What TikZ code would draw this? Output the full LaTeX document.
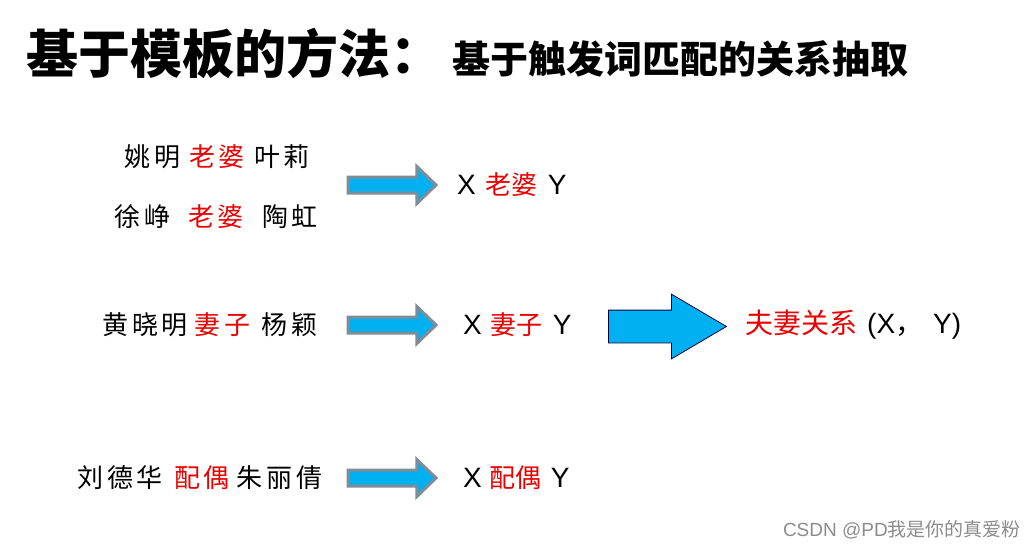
\documentclass[tikz,border=0pt]{standalone}
\usepackage{fontspec}
\setmainfont{Liberation Sans}
\newfontfamily\cjk{Noto Sans CJK SC}
\newfontfamily\cjkwide[LetterSpace=15]{Noto Sans CJK SC}
\usetikzlibrary{shapes.arrows}
\definecolor{arrowblue}{RGB}{0,176,240}
\definecolor{arrowrim}{RGB}{128,140,150}
\definecolor{relred}{RGB}{235,0,0}
\tikzset{
  smallarrow/.style={single arrow, draw=arrowrim, fill=arrowblue, line width=3pt, inner sep=0pt, inner ysep=6.5pt,
    single arrow head extend=10.5pt, single arrow tip angle=88, minimum height=88pt, anchor=west},
  bigarrow/.style={single arrow, draw=black!75!blue, fill=arrowblue, line width=0.8pt, inner sep=0pt, inner ysep=16pt,
    single arrow head extend=16pt, single arrow tip angle=61, minimum height=118pt, anchor=west},
  pairtext/.style={anchor=west, inner sep=0pt, font=\cjkwide\fontsize{26}{26}\selectfont},
  tmptext/.style={anchor=west, inner sep=0pt, font=\fontsize{28}{28}\selectfont}
}
\newcommand{\rw}[1]{\textcolor{relred}{\cjk\fontsize{26}{26}\selectfont #1}}
\newcommand{\rn}[1]{\textcolor{relred}{#1}}

\begin{document}
\begin{tikzpicture}[x=1pt, y=-1pt]
    \useasboundingbox[fill=white] (0,0) rectangle (1034,554);
    \node[anchor=base west, inner sep=0pt, font=\cjk\bfseries\fontsize{52}{52}\selectfont] (title) at (26,73) {基于模板的方法：};
    \node[anchor=base west, inner sep=0pt, font=\cjk\bfseries\fontsize{38}{38}\selectfont] (subtitle) at (452,73) {基于触发词匹配的关系抽取};

    \node[pairtext] (pair1a) at (124,157) {姚明\hspace{9pt}\rn{老婆}\hspace{9pt}叶莉};
    \node[pairtext] (pair1b) at (114,217) {徐峥\hspace{18pt}\rn{老婆}\hspace{18pt}陶虹};
    \node[pairtext] (pair2) at (102,325) {黄晓明\hspace{7pt}\rn{妻子}\hspace{11pt}杨颖};
    \node[pairtext] (pair3) at (77,478) {刘德华\hspace{11pt}\rn{配偶}\hspace{7pt}朱丽倩};

    \node[smallarrow] (arr1) at (346.5,185) {};
    \node[smallarrow] (arr2) at (346.5,325) {};
    \node[smallarrow] (arr3) at (346.5,478) {};

    \node[tmptext] (tmp1) at (457,185) {X\hspace{10pt}\rw{老婆}\hspace{10pt}Y};
    \node[tmptext] (tmp2) at (463,325) {X\hspace{9pt}\rw{妻子}\hspace{10pt}Y};
    \node[tmptext] (tmp3) at (463,478) {X\hspace{8pt}\rw{配偶}\hspace{9pt}Y};

    \node[bigarrow] (arr4) at (608,326.5) {};
    \node[tmptext] (rel) at (745,325) {\rw{\fontsize{28}{28}\selectfont 夫妻关系}\hspace{10pt}(X{\cjk ，}\hspace{10pt}Y)};

    \node[anchor=east, inner sep=0pt, text=black!45, font=\fontsize{19}{19}\selectfont] (mark) at (1021,530) {CSDN @PD{\cjk 我是你的真爱粉}};
  \end{tikzpicture}
\end{document}
